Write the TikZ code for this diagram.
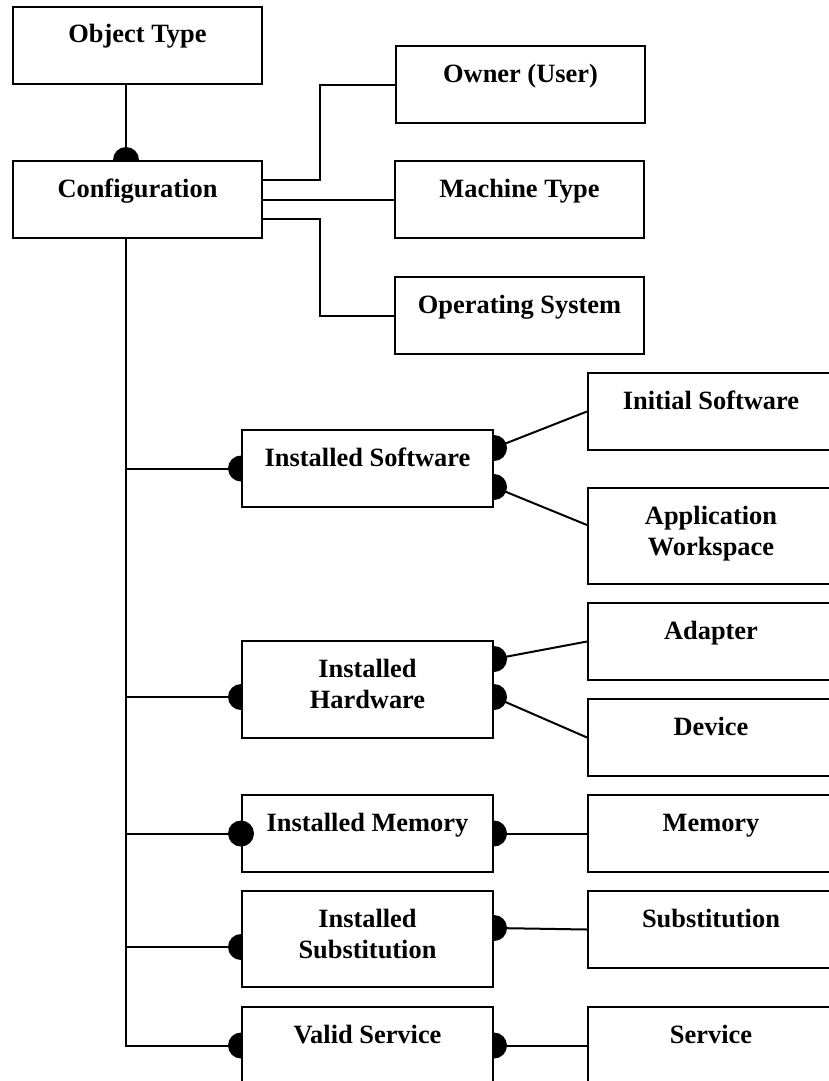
\documentclass[tikz,border=0pt]{standalone}
\usepackage{fontspec}
\setmainfont{Liberation Serif}
\usetikzlibrary{calc}
\pgfdeclarelayer{bg}
\pgfsetlayers{bg,main}
\newcommand{\entbox}[3]{\parbox[t][#2][t]{#1}{\centering\rule{0pt}{36pt}#3}}
\tikzset{
  ent/.style={draw=black, line width=2pt, fill=white, inner sep=0pt, anchor=north west,
    font=\fontsize{26.4pt}{31pt}\selectfont\bfseries},
  conn/.style={draw=black, line width=2pt},
  dotc/.style={fill=black},
}
\begin{document}
\begin{tikzpicture}[x=1pt,y=-1pt]
\useasboundingbox (0,0) rectangle (829,1081);
\clip (0,0) rectangle (829,1081);
% entities
\node[ent] (objtype) at (12,6) {\entbox{249pt}{77pt}{Object Type}};
\node[ent] (conf) at (12,160) {\entbox{249pt}{77pt}{Configuration}};
\node[ent] (owner) at (395,45) {\entbox{249pt}{77pt}{Owner (User)}};
\node[ent] (machine) at (394,160) {\entbox{249pt}{77pt}{Machine Type}};
\node[ent] (os) at (394,276) {\entbox{249pt}{77pt}{Operating System}};
\node[ent] (instsw) at (241,429) {\entbox{251pt}{77pt}{Installed Software}};
\node[ent] (insthw) at (241,640) {\entbox{251pt}{97pt}{Installed\\Hardware}};
\node[ent] (instmem) at (241,794) {\entbox{251pt}{77pt}{Installed Memory}};
\node[ent] (instsub) at (241,890) {\entbox{251pt}{96pt}{Installed\\Substitution}};
\node[ent] (validsvc) at (241,1006) {\entbox{251pt}{77pt}{Valid Service}};
\node[ent] (initsw) at (587,372) {\entbox{246pt}{77pt}{Initial Software}};
\node[ent] (appws) at (587,487) {\entbox{246pt}{96pt}{Application\\Workspace}};
\node[ent] (adapter) at (587,602) {\entbox{246pt}{77pt}{Adapter}};
\node[ent] (device) at (587,698) {\entbox{246pt}{77pt}{Device}};
\node[ent] (memory) at (587,794) {\entbox{246pt}{77pt}{Memory}};
\node[ent] (subst) at (587,890) {\entbox{246pt}{77pt}{Substitution}};
\node[ent] (service) at (587,1006) {\entbox{246pt}{77pt}{Service}};
% connection points
\coordinate (otB) at ($(objtype.south west)+(114,0)$);
\coordinate (cfT) at ($(conf.north west)+(114,0)$);
\coordinate (cfB) at ($(conf.south west)+(114,0)$);
\coordinate (hwL) at ($(insthw.north west)+(0,57)$);
\coordinate (subL) at ($(instsub.north west)+(0,57)$);
\coordinate (swR1) at ($(instsw.north east)+(0,19)$);
\coordinate (swR2) at ($(instsw.north east)+(0,58)$);
\coordinate (hwR1) at ($(insthw.north east)+(0,19)$);
\coordinate (hwR2) at ($(insthw.north east)+(0,57)$);
\coordinate (subR) at ($(instsub.north east)+(0,38)$);
\coordinate (awL) at ($(appws.north west)+(0,38)$);
\begin{pgfonlayer}{bg}
  \draw[conn] (otB) -- (cfT);
  \draw[conn] ([yshift=19.5pt]conf.east) -- ++(57,0) |- (owner.west);
  \draw[conn] (conf.east) -- (machine.west);
  \draw[conn] ([yshift=-19.5pt]conf.east) -- ++(57,0) |- (os.west);
  \draw[conn] (cfB) |- (validsvc.west);
  \draw[conn] (cfB |- instsw.west) -- (instsw.west);
  \draw[conn] (cfB |- hwL) -- (hwL);
  \draw[conn] (cfB |- instmem.west) -- (instmem.west);
  \draw[conn] (cfB |- subL) -- (subL);
  \draw[conn] (swR1) -- (initsw.west);
  \draw[conn] (swR2) -- (awL);
  \draw[conn] (hwR1) -- (adapter.west);
  \draw[conn] (hwR2) -- (device.west);
  \draw[conn] (instmem.east) -- (memory.west);
  \draw[conn] (subR) -- (subst.west);
  \draw[conn] (validsvc.east) -- (service.west);
  \foreach \p in {cfT, instsw.west, hwL, subL, validsvc.west, swR1, swR2, hwR1, hwR2, instmem.east, subR, validsvc.east}
    \fill[dotc] (\p) circle[radius=13pt];
\end{pgfonlayer}
\fill[dotc] (instmem.west) circle[radius=13pt];
\end{tikzpicture}
\end{document}
